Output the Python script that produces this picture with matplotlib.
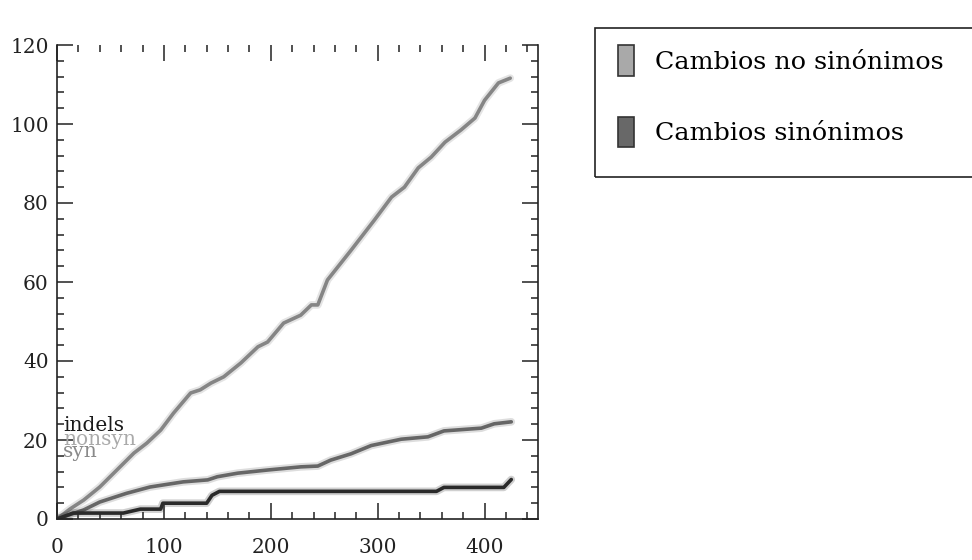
import matplotlib
matplotlib.use("Agg")
import matplotlib.pyplot as plt
from matplotlib.patches import Patch, Rectangle
from matplotlib.ticker import MultipleLocator

plt.rcParams["font.family"] = ["DejaVu Serif"]

# cumulative changes along the sequence
nonsyn_x = [0, 12, 25, 40, 56, 72, 84, 97, 109, 125, 134, 144, 156, 172, 188, 197,
            212, 228, 238, 244, 253, 275, 297, 313, 325, 338, 350, 363, 378, 391,
            400, 413, 424]
nonsyn_y = [0, 2.5, 4.8, 8.1, 12.4, 16.7, 19.2, 22.5, 26.8, 31.9, 32.7, 34.4, 36,
            39.5, 43.6, 44.8, 49.6, 51.6, 54.2, 54.2, 60.5, 68, 75.7, 81.5, 84,
            88.9, 91.6, 95.4, 98.5, 101.5, 106, 110.4, 111.6]

syn_x = [0, 25, 40, 65, 87, 118, 141, 150, 169, 197, 228, 244, 256, 275, 294, 322,
         347, 362, 397, 409, 425]
syn_y = [0, 2.3, 4.3, 6.5, 8.1, 9.4, 9.9, 10.7, 11.6, 12.4, 13.2, 13.4, 14.9, 16.5,
         18.6, 20.2, 20.8, 22.3, 23, 24.1, 24.6]

indel_x = [0, 15, 62, 78, 97, 99, 140, 145, 152, 355, 362, 418, 425]
indel_y = [0, 1.5, 1.5, 2.5, 2.5, 4, 4, 6, 7, 7, 8, 8, 10]

legend_labels = ["Cambios no sinónimos", "Cambios sinónimos"]
legend_colors = ["#a9a9a9", "#686868"]

fig = plt.figure(figsize=(9.72, 5.6), dpi=100)
ax = fig.add_axes([57 / 972, 1 - 519 / 560, 481 / 972, 474 / 560])

for xs, ys, c in [(nonsyn_x, nonsyn_y, "#858585"),
                  (syn_x, syn_y, "#666666"),
                  (indel_x, indel_y, "#2a2a2a")]:
    ax.plot(xs, ys, color=c, lw=5.5, alpha=0.22, solid_capstyle="round")
    ax.plot(xs, ys, color=c, lw=2.6, solid_capstyle="round")

ax.text(5.5, 22.4, "indels", color="#1a1a1a", fontsize=14.5, va="baseline")
ax.text(5.5, 18.7, "nonsyn", color="#aaaaaa", fontsize=14.5, va="baseline")
ax.text(5.5, 15.8, "syn", color="#8a8a8a", fontsize=14.5, va="baseline")

ax.set_xlim(0, 450)
ax.set_ylim(0, 120)
ax.xaxis.set_major_locator(MultipleLocator(100))
ax.xaxis.set_minor_locator(MultipleLocator(20))
ax.yaxis.set_major_locator(MultipleLocator(20))
ax.yaxis.set_minor_locator(MultipleLocator(4))
ax.tick_params(which="both", direction="in", top=True, right=True, width=1.1,
               color="#222222", labelsize=14.5, labelcolor="#222222")
ax.tick_params(which="major", length=11.5)
ax.tick_params(which="minor", length=5)
ax.tick_params(axis="x", which="major", pad=14)
ax.tick_params(axis="y", which="major", pad=6)
ax.spines["top"].set_visible(False)
for s in ["left", "right", "bottom"]:
    ax.spines[s].set_linewidth(1.2)
    ax.spines[s].set_color("#222222")

# legend box drawn separately so the entries can sit high inside it
fig.patches.append(Rectangle((595 / 972, 1 - 177 / 560), 380 / 972, 149 / 560,
                             transform=fig.transFigure, fill=False,
                             edgecolor="#222222", lw=1.2))
handles = [Patch(facecolor=c, edgecolor="#333333", lw=1.2) for c in legend_colors]
fig.legend(handles, legend_labels, loc="upper left",
           bbox_to_anchor=(595 / 972, 1 - 22.5 / 560),
           fontsize=18.3, frameon=False,
           handlelength=0.65, handleheight=1.45,
           handletextpad=0.8, labelspacing=1.62, borderpad=0.9,
           borderaxespad=0)

fig.savefig("out.png", dpi=100, facecolor="white")
plt.close(fig)
